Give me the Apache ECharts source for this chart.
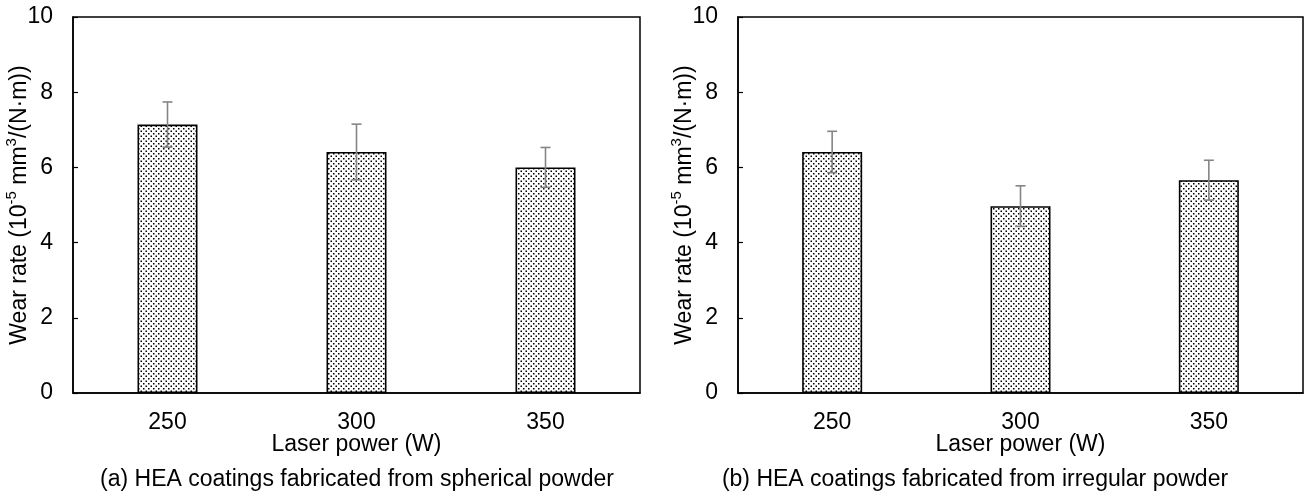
<!DOCTYPE html>
<html>
<head>
<meta charset="utf-8">
<script src="https://cdn.jsdelivr.net/npm/echarts@6/dist/echarts.min.js"></script>
<style>
  html, body { margin: 0; padding: 0; background: #fff; }
  #chart { width: 1307px; height: 498px; }
</style>
</head>
<body>
<div id="chart"></div>
<script>
// Laser power categories (W)
const categories = ['250', '300', '350'];

// Wear rate (10^-5 mm^3/(N·m)) and standard deviation, spherical powder
const sphericalRate = [7.14, 6.41, 6.00];
const sphericalErr = [0.60, 0.74, 0.53];

// Wear rate and standard deviation, irregular powder
const irregularRate = [6.41, 4.97, 5.66];
const irregularErr = [0.55, 0.54, 0.53];

const yTicks = { min: 0, max: 10, interval: 2 };

const captions = [
  '(a) HEA coatings fabricated from spherical powder',
  '(b) HEA coatings fabricated from irregular powder'
];

const FONT = 'Liberation Sans, Arial, sans-serif';
const FS = 23;

// Stippled fill for the bars
function makeDots() {
  const c = document.createElement('canvas');
  c.width = 5; c.height = 5;
  const g = c.getContext('2d');
  g.fillStyle = '#fff';
  g.fillRect(0, 0, 5, 5);
  g.fillStyle = '#000';
  g.fillRect(0.5, 0.5, 1.5, 1.5);
  g.fillRect(3, 3, 1.5, 1.5);
  return c;
}
const dots = makeDots();

function errorData(values, errs) {
  return values.map((v, i) => [i, v + errs[i], v - errs[i]]);
}

function renderError(params, api) {
  const x = api.value(0);
  const hi = api.coord([x, api.value(1)]);
  const lo = api.coord([x, api.value(2)]);
  const half = 5;
  const style = { stroke: '#858585', lineWidth: 1.6 };
  return {
    type: 'group',
    children: [
      { type: 'line', shape: { x1: hi[0], y1: hi[1], x2: lo[0], y2: lo[1] }, style },
      { type: 'line', shape: { x1: hi[0] - half, y1: hi[1], x2: hi[0] + half, y2: hi[1] }, style },
      { type: 'line', shape: { x1: lo[0] - half, y1: lo[1], x2: lo[0] + half, y2: lo[1] }, style }
    ]
  };
}

const yName = '{n|Wear rate (10}{s|-5}{n| mm}{s|3}{n|/(N·m))}';

function xAxis(idx) {
  return {
    type: 'category',
    gridIndex: idx,
    data: categories,
    axisTick: { show: false },
    axisLine: { lineStyle: { color: '#000', width: 1.5 } },
    axisLabel: { color: '#000', fontSize: FS, fontFamily: FONT, margin: 18 },
    name: 'Laser power (W)',
    nameLocation: 'middle',
    nameGap: 40,
    nameMoveOverlap: false,
    nameTextStyle: { color: '#000', fontSize: FS, fontFamily: FONT }
  };
}

function yAxis(idx) {
  return {
    type: 'value',
    gridIndex: idx,
    min: yTicks.min,
    max: yTicks.max,
    interval: yTicks.interval,
    splitLine: { show: false },
    axisLine: { show: true, lineStyle: { color: '#000', width: 1.5 } },
    axisTick: { show: true, inside: true, length: 5, lineStyle: { color: '#000', width: 1.2 } },
    axisLabel: { color: '#000', fontSize: FS, fontFamily: FONT, margin: 20 },
    name: yName,
    nameLocation: 'middle',
    nameGap: 42,
    nameMoveOverlap: false,
    nameTextStyle: {
      color: '#000',
      fontFamily: FONT,
      rich: {
        n: { fontSize: FS, fontFamily: FONT, color: '#000', lineHeight: 27, verticalAlign: 'bottom' },
        s: { fontSize: 15, fontFamily: FONT, color: '#000', lineHeight: 27, verticalAlign: 'top' }
      }
    }
  };
}

function barSeries(idx, values) {
  return {
    type: 'bar',
    xAxisIndex: idx,
    yAxisIndex: idx,
    data: values,
    barWidth: 60,
    itemStyle: {
      color: { image: dots, repeat: 'repeat' },
      borderColor: '#000',
      borderWidth: 1.6
    },
    emphasis: { disabled: true },
    animation: false
  };
}

function errSeries(idx, values, errs) {
  return {
    type: 'custom',
    xAxisIndex: idx,
    yAxisIndex: idx,
    data: errorData(values, errs),
    renderItem: renderError,
    z: 5,
    animation: false
  };
}

const chart = echarts.init(document.getElementById('chart'), null, { renderer: 'canvas' });
chart.setOption({
  backgroundColor: '#fff',
  animation: false,
  grid: [
    { left: 73, right: 667, top: 17, bottom: 105, show: true, borderColor: '#000', borderWidth: 1.5, outerBoundsMode: 'none', containLabel: false },
    { left: 738, right: 4, top: 17, bottom: 105, show: true, borderColor: '#000', borderWidth: 1.5, outerBoundsMode: 'none', containLabel: false }
  ],
  xAxis: [xAxis(0), xAxis(1)],
  yAxis: [yAxis(0), yAxis(1)],
  series: [
    barSeries(0, sphericalRate),
    errSeries(0, sphericalRate, sphericalErr),
    barSeries(1, irregularRate),
    errSeries(1, irregularRate, irregularErr)
  ],
  graphic: [
    { type: 'text', x: 357, y: 480, style: { text: captions[0], fill: '#000', fontSize: FS, fontFamily: FONT, textAlign: 'center', textVerticalAlign: 'middle' } },
    { type: 'text', x: 975, y: 480, style: { text: captions[1], fill: '#000', fontSize: FS, fontFamily: FONT, textAlign: 'center', textVerticalAlign: 'middle' } }
  ]
});
</script>
</body>
</html>
